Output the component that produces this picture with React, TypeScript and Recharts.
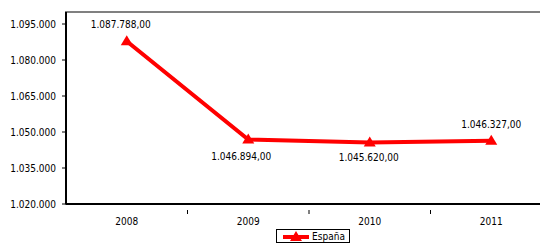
import { LineChart, Line, XAxis, YAxis, Legend, LabelList } from 'recharts';

const years = ['2008', '2009', '2010', '2011'];
const espana = [1087788, 1046894, 1045620, 1046327];
const yTicks = [1020000, 1035000, 1050000, 1065000, 1080000, 1095000];

const data = years.map((year, i) => ({ year, espana: espana[i] }));

const FONT = '"DejaVu Sans Condensed", "DejaVu Sans", sans-serif';
const RED = '#ff0000';
const BAND = 121.5;

const fmtAxis = (v: number) => v.toLocaleString('de-DE');
const fmtLabel = (v: number) =>
  v.toLocaleString('de-DE', { minimumFractionDigits: 2, maximumFractionDigits: 2 });

// label placement, Excel style: some above, some below
const labelPlace = [
  { dx: -6, dy: -17 },
  { dx: -7, dy: 17 },
  { dx: -1, dy: 15 },
  { dx: 0, dy: -16 },
];

const Triangle = (props: any) => {
  const { cx, cy } = props;
  if (cx == null || cy == null) return null;
  return <path d={`M${cx},${cy - 6} L${cx + 6},${cy + 4} L${cx - 6},${cy + 4} Z`} fill={RED} />;
};

const XTick = (props: any) => {
  const { x, y, payload, index } = props;
  return (
    <g>
      {index > 0 && (
        <line x1={x - BAND / 2} x2={x - BAND / 2} y1={y - 10} y2={y - 6} stroke="#000" strokeWidth={1} />
      )}
      <text x={x} y={y - 2} dy="0.71em" textAnchor="middle" fill="#000" fontSize={10} fontFamily={FONT}>
        {payload.value}
      </text>
    </g>
  );
};

const DataLabel = (props: any) => {
  const { x, y, value, index } = props;
  const p = labelPlace[index];
  return (
    <text x={x + p.dx} y={y + p.dy} dy="0.35em" textAnchor="middle" fill="#000" fontSize={10} fontFamily={FONT}>
      {fmtLabel(value)}
    </text>
  );
};

const LegendBox = () => (
  <div style={{ display: 'flex', justifyContent: 'center' }}>
    <div
      style={{
        border: '1px solid #000',
        height: 14,
        padding: '0 4px 0 6px',
        display: 'flex',
        alignItems: 'center',
        gap: 3,
        fontFamily: FONT,
        fontSize: 10,
        color: '#000',
        boxSizing: 'border-box',
        marginLeft: 74,
      }}
    >
      <svg width={26} height={12}>
        <line x1={0} x2={26} y1={7} y2={7} stroke={RED} strokeWidth={4} />
        <path d="M13,1 L19,11 L7,11 Z" fill={RED} />
      </svg>
      <span>España</span>
    </div>
  </div>
);

export default function App() {
  return (
    <div style={{ position: 'absolute', left: 0, top: 0, width: 540, height: 243, overflow: 'hidden', background: '#fff' }}>
      <LineChart width={560} height={258} data={data} margin={{ top: 12, right: 8, left: 0, bottom: 0 }}>
        <rect x={66} y={12} width={486} height={192} fill="none" stroke="#808080" strokeWidth={2} />
        <XAxis
          dataKey="year"
          height={25}
          padding={{ left: BAND / 2, right: BAND / 2 }}
          axisLine={{ stroke: '#000', strokeWidth: 2 }}
          tickLine={false}
          tick={<XTick />}
          tickMargin={10}
          interval={0}
        />
        <YAxis
          width={66}
          domain={[1020000, 1100000]}
          ticks={yTicks}
          tickFormatter={fmtAxis}
          axisLine={{ stroke: '#000', strokeWidth: 2 }}
          tickLine={{ stroke: '#000' }}
          tickSize={4}
          tickMargin={6}
          tick={{ fill: '#000', fontSize: 10, fontFamily: FONT }}
          allowDataOverflow
        />
        <Legend verticalAlign="bottom" height={29} content={<LegendBox />} />
        <Line
          type="linear"
          dataKey="espana"
          name="España"
          stroke={RED}
          strokeWidth={4}
          dot={<Triangle />}
          activeDot={false}
          isAnimationActive={false}
        >
          <LabelList dataKey="espana" content={<DataLabel />} />
        </Line>
      </LineChart>
    </div>
  );
}
